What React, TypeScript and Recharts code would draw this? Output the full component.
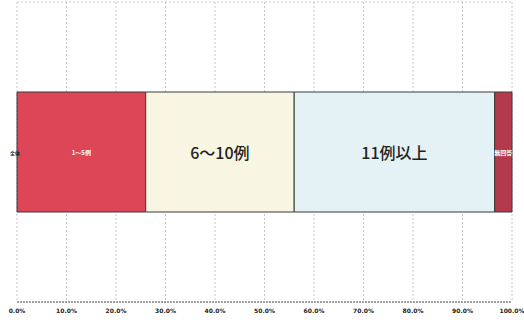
import React from 'react';
import { BarChart, Bar, XAxis, YAxis, CartesianGrid, LabelList } from 'recharts';

const categories = ['全体'];
const seriesKeys = ['a', 'b', 'c', 'd'];
const seriesNames = ['1〜5例', '6〜10例', '11例以上', '無回答'];
const aValues = [26];
const bValues = [30];
const cValues = [40.5];
const dValues = [3.5];
const xTicks = [0, 10, 20, 30, 40, 50, 60, 70, 80, 90, 100];

const data = categories.map((name, i) => ({
  name,
  a: aValues[i],
  b: bValues[i],
  c: cValues[i],
  d: dValues[i],
}));

const fills = ['#dc4657', '#f8f6e3', '#e5f2f5', '#b23a4b'];
const labelStyles = [
  { fill: '#fff', fontSize: 6, fontWeight: 700 },
  { fill: '#222', fontSize: 16, fontWeight: 500 },
  { fill: '#222', fontSize: 16, fontWeight: 500 },
  { fill: '#fff', fontSize: 6, fontWeight: 700 },
];

const makeLabel = (idx: number) => (props: any) => {
  const { x, y, width, height } = props;
  const s = labelStyles[idx];
  return (
    <text
      x={x + width / 2}
      y={y + height / 2}
      textAnchor="middle"
      dominantBaseline="central"
      fill={s.fill}
      fontSize={s.fontSize}
      fontWeight={s.fontWeight}
      fontFamily="'Noto Sans CJK JP', sans-serif"
    >
      {seriesNames[idx]}
    </text>
  );
};

const YTick = (props: any) => {
  const { y, payload } = props;
  return (
    <text
      x={15}
      y={y}
      textAnchor="middle"
      dominantBaseline="central"
      fontSize={5}
      fontWeight={700}
      fill="#222"
      fontFamily="'Noto Sans CJK JP', sans-serif"
    >
      {payload.value}
    </text>
  );
};

export default function App() {
  return (
    <div style={{ position: 'absolute', left: 0, top: 0, background: '#fff' }}>
      <BarChart
        width={524}
        height={320}
        data={data}
        layout="vertical"
        margin={{ top: 2, right: 12, bottom: 0, left: 0 }}
      >
        <CartesianGrid
          vertical
          horizontal
          horizontalPoints={[2]}
          stroke="#c8c8c8"
          strokeDasharray="2 2"
        />
        <XAxis
          type="number"
          domain={[0, 100]}
          ticks={xTicks}
          interval={0}
          height={18}
          tickFormatter={(v: number) => `${v.toFixed(1)}%`}
          tick={{ fontSize: 6, fill: '#222', fontWeight: 700, fontFamily: 'DejaVu Sans' }}
          tickLine={false}
          tickMargin={1}
          axisLine={{ stroke: '#444', strokeDasharray: '2 1' }}
        />
        <YAxis
          type="category"
          dataKey="name"
          width={17}
          tickLine={false}
          axisLine={false}
          tick={<YTick />}
        />
        {seriesKeys.map((k, i) => (
          <Bar
            key={k}
            dataKey={k}
            stackId="s"
            barSize={120}
            fill={fills[i]}
            stroke="#3a3a3a"
            strokeWidth={1}
            isAnimationActive={false}
          >
            <LabelList dataKey={k} content={makeLabel(i)} />
          </Bar>
        ))}
      </BarChart>
    </div>
  );
}
